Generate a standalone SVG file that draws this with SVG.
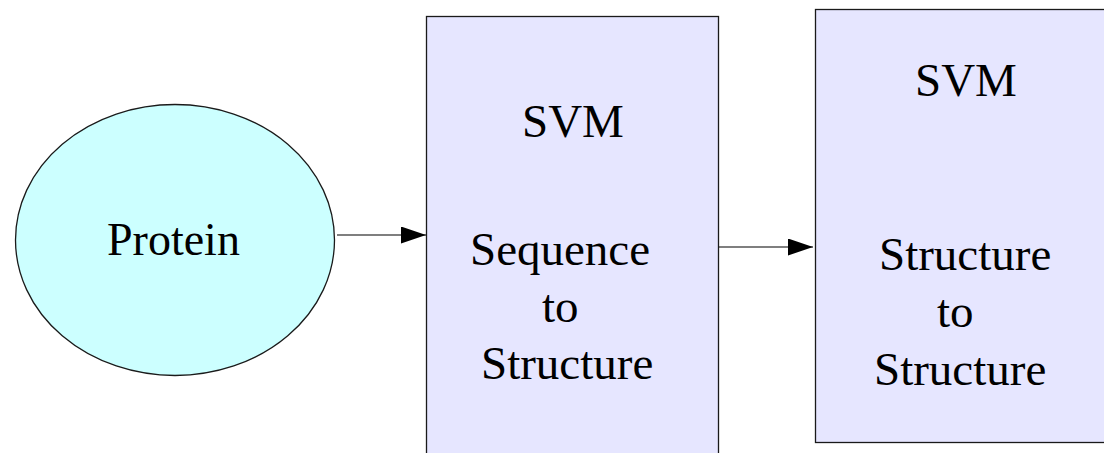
<svg xmlns="http://www.w3.org/2000/svg" width="1104" height="453" viewBox="0 0 1104 453">
  <style>
    .lbl { font-family: "Liberation Serif", "Times New Roman", serif; font-size: 47px; fill: #000; }
    .box { fill: #e6e6ff; stroke: #1a1a1a; stroke-width: 1.3; }
    .ell { fill: #ccffff; stroke: #1a1a1a; stroke-width: 1.3; }
    .edge { stroke: #000; stroke-width: 1.2; fill: none; }
  </style>
  <defs>
    <marker id="arrow" markerUnits="userSpaceOnUse" markerWidth="26" markerHeight="18" refX="25" refY="8.5" orient="auto">
      <path d="M0,0 L25,8.5 L0,17 Z" fill="#000"/>
    </marker>
  </defs>
  <rect width="1104" height="453" fill="#ffffff"/>

  <g id="protein">
    <ellipse class="ell" cx="175" cy="240" rx="159.5" ry="135.5"/>
    <text class="lbl" x="107" y="255" style="font-size:46px">Protein</text>
  </g>

  <g id="svm-seq">
    <rect class="box" x="426.5" y="16.5" width="292" height="450"/>
    <text class="lbl" x="522" y="137">SVM</text>
    <text class="lbl" x="470" y="265">Sequence</text>
    <text class="lbl" x="542" y="322">to</text>
    <text class="lbl" x="481" y="379">Structure</text>
  </g>

  <g id="svm-struct">
    <rect class="box" x="815.5" y="9.5" width="300" height="433"/>
    <text class="lbl" x="915" y="96">SVM</text>
    <text class="lbl" x="879" y="270">Structure</text>
    <text class="lbl" x="937" y="327">to</text>
    <text class="lbl" x="874" y="385">Structure</text>
  </g>

  <g id="connectors">
    <line class="edge" x1="337" y1="235" x2="426" y2="235" marker-end="url(#arrow)"/>
    <line class="edge" x1="719" y1="247" x2="813" y2="247" marker-end="url(#arrow)"/>
  </g>
</svg>
